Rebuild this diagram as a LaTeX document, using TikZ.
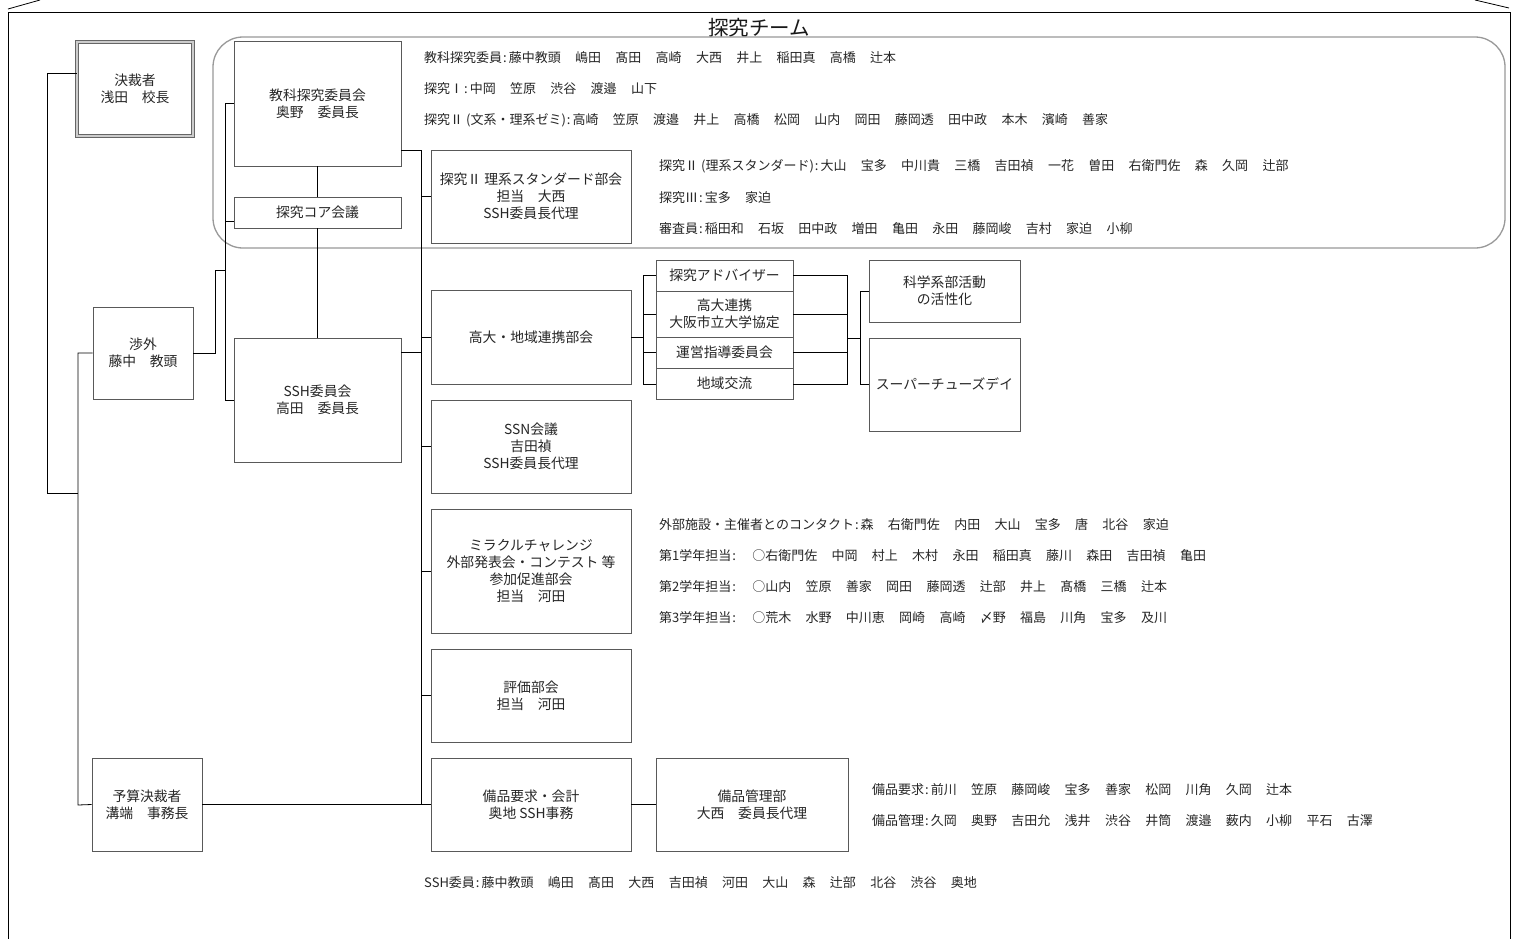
\documentclass[tikz,border=0pt]{standalone}
\usepackage{fontspec}
\setmainfont{Noto Sans CJK JP}
\usetikzlibrary{fit}
\newcommand\mkbox[5][]{\node[box,#1,fit={#3 #4}] (#2) {};\node[boxtext] (#2-t) at (#2.center) {#5};}
\newcommand\G{\hspace{1.1em}}
\newcommand\C{\kern1pt:\kern2pt}
\begin{document}
\begin{tikzpicture}[x=1pt,y=-1pt,
  box/.style={draw=black!65, line width=0.9pt, fill=white, inner sep=0pt},
  boxtext/.style={align=center, inner sep=0pt, font=\fontsize{13.8}{17}\selectfont, text=black!85},
  conn/.style={draw=black, line width=0.8pt},
  lst/.style={anchor=west, inner sep=0pt, font=\fontsize{13}{15}\selectfont, text=black!85},
  group/.style={draw=black!40, line width=1.3pt, rounded corners=30pt}]
\useasboundingbox (0,0) rectangle (1517,938);
\fill[white] (0,0) rectangle (1517,938);
% frame
\draw[line width=1pt] (8,945) -- (8,12) -- (1510,12) -- (1510,945);
\draw[line width=0.8pt] (8,9) -- (40,0);
\draw[line width=0.8pt] (1509,8) -- (1475,0);
\node[font=\fontsize{20.5}{23}\selectfont, text=black!90] (title) at (759,28) {探究チーム};
% group frame
\draw[group] (213,37) rectangle (1505,248);
% boxes
\mkbox[draw=black!60, double=black!20, double distance=1.2pt, line width=1pt]{kessai}{(77,42)}{(193,136)}{決裁者\\浅田　校長}
\mkbox{kyoka}{(234,41)}{(401,166)}{教科探究委員会\\奥野　委員長}
\mkbox{core}{(234,197)}{(401,228)}{探究コア会議}
\mkbox{tankyu2}{(431,150)}{(631,243)}{探究Ⅱ 理系スタンダード部会\\担当　大西\\SSH委員長代理}
\mkbox{shogai}{(93,307)}{(193,399)}{渉外\\藤中　教頭}
\mkbox{ssh}{(234,338)}{(401,462)}{SSH委員会\\高田　委員長}
\mkbox{kodai}{(431,290)}{(631,384)}{高大・地域連携部会}
\mkbox{ssn}{(431,400)}{(631,493)}{SSN会議\\吉田禎\\SSH委員長代理}
\mkbox{miracle}{(431,509)}{(631,633)}{ミラクルチャレンジ\\外部発表会・コンテスト 等\\参加促進部会\\担当　河田}
\mkbox{hyoka}{(431,649)}{(631,742)}{評価部会\\担当　河田}
\mkbox{bihin}{(431,758)}{(631,851)}{備品要求・会計\\奥地 SSH事務}
\mkbox{kanri}{(656,758)}{(848,851)}{備品管理部\\大西　委員長代理}
\mkbox{yosan}{(92,758)}{(202,851)}{予算決裁者\\溝端　事務長}
\mkbox{adv}{(656,260)}{(793,291)}{探究アドバイザー}
\mkbox{renkei}{(656,291)}{(793,337)}{高大連携\\大阪市立大学協定}
\mkbox{unei}{(656,337)}{(793,368)}{運営指導委員会}
\mkbox{chiiki}{(656,368)}{(793,399)}{地域交流}
\mkbox{kagaku}{(869,260)}{(1020,322)}{科学系部活動\\の活性化}
\mkbox{super}{(869,338)}{(1020,431)}{スーパーチューズデイ}
% connectors: left
\coordinate (L1) at (47,73); \coordinate (L2) at (47,493); \coordinate (L3) at (78,493);
\coordinate (V1) at (78,353); \coordinate (V2) at (78,805);
\draw[conn] ([yshift=16pt]kessai.west) -- (L1) -- (L2) -- (L3);
\draw[conn] (shogai.west) -- (V1) -- (V2) -- (yosan.west);
% shogai to left bus
\coordinate (S1) at (215,353); \coordinate (S2) at (215,270); \coordinate (S3) at (225,270);
\coordinate (B0) at (225,103); \coordinate (B1) at (225,400);
\draw[conn] (shogai.east) -- (S1) -- (S2) -- (S3);
\draw[conn] (B0) -- (B1);
\draw[conn] (B0) -- (B0 -| kyoka.west);
\draw[conn] ([yshift=-9pt]core.west -| B0) -- ([yshift=-9pt]core.west);
\draw[conn] (B1) -- (B1 -| ssh.west);
\draw[conn] (kyoka.south) -- (core.north);
\draw[conn] (core.south) -- (ssh.north);
% main bus
\coordinate (M0) at (421,150); \coordinate (M1) at (421,805);
\draw[conn] (M0 -| kyoka.east) -- (M0) -- (M1);
\foreach \n in {tankyu2,kodai,ssn,miracle,hyoka} \draw[conn] (M0 |- \n.west) -- (\n.west);
\draw[conn] ([yshift=48pt]ssh.east) -- ([yshift=48pt]ssh.east -| M0);
\draw[conn] (yosan.east) -- (bihin.west);
\draw[conn] (bihin.east) -- (kanri.west);
% kodai bracket
\coordinate (K0) at (643,275); \coordinate (K1) at (643,384);
\draw[conn] (kodai.east) -- (kodai.east -| K0);
\draw[conn] (K0 -| adv.west) -- (K0) -- (K1) -- (K1 -| chiiki.west);
\draw[conn] (K0 |- renkei.west) -- (renkei.west);
\draw[conn] (K0 |- unei.west) -- (unei.west);
\coordinate (R0) at (847,275); \coordinate (R1) at (847,384);
\coordinate (R2) at (847,338); \coordinate (R3) at (860,338);
\coordinate (T0) at (860,291); \coordinate (T1) at (860,384);
\draw[conn] (adv.east |- R0) -- (R0) -- (R1) -- (R1 -| chiiki.east);
\draw[conn] (renkei.east) -- (renkei.east -| R0);
\draw[conn] (unei.east) -- (unei.east -| R0);
\draw[conn] (R2) -- (R3);
\draw[conn] (kagaku.west -| T0) -- (kagaku.west);
\draw[conn] (kagaku.west -| T0) -- (super.west -| T0) -- (super.west);
% lists
\node[lst] (g1a) at (424,58) {教科探究委員\C 藤中教頭\G 嶋田\G 髙田\G 高崎\G 大西\G 井上\G 稲田真\G 高橋\G 辻本};
\node[lst] (g1b) at (424,89) {探究Ⅰ\C 中岡\G 笠原\G 渋谷\G 渡邉\G 山下};
\node[lst] (g1c) at (424,120) {探究Ⅱ (文系・理系ゼミ)\C 高崎\G 笠原\G 渡邉\G 井上\G 高橋\G 松岡\G 山内\G 岡田\G 藤岡透\G 田中政\G 本木\G 濱崎\G 善家};
\node[lst] (g2a) at (659,166) {探究Ⅱ (理系スタンダード)\C 大山\G 宝多\G 中川貴\G 三橋\G 吉田禎\G 一花\G 曽田\G 右衛門佐\G 森\G 久岡\G 辻部};
\node[lst] (g2b) at (659,198) {探究Ⅲ\C 宝多\G 家迫};
\node[lst] (g2c) at (659,229) {審査員\C 稲田和\G 石坂\G 田中政\G 増田\G 亀田\G 永田\G 藤岡峻\G 吉村\G 家迫\G 小柳};
\node[lst] (g3a) at (659,525) {外部施設・主催者とのコンタクト\C 森\G 右衛門佐\G 内田\G 大山\G 宝多\G 唐\G 北谷\G 家迫};
\node[lst] (g3b) at (659,556) {第1学年担当\C\G ○右衛門佐\G 中岡\G 村上\G 木村\G 永田\G 稲田真\G 藤川\G 森田\G 吉田禎\G 亀田};
\node[lst] (g3c) at (659,587) {第2学年担当\C\G ○山内\G 笠原\G 善家\G 岡田\G 藤岡透\G 辻部\G 井上\G 髙橋\G 三橋\G 辻本};
\node[lst] (g3d) at (659,618) {第3学年担当\C\G ○荒木\G 水野\G 中川恵\G 岡崎\G 高崎\G 〆野\G 福島\G 川角\G 宝多\G 及川};
\node[lst] (g4a) at (872,790) {備品要求\C 前川\G 笠原\G 藤岡峻\G 宝多\G 善家\G 松岡\G 川角\G 久岡\G 辻本};
\node[lst] (g4b) at (872,821) {備品管理\C 久岡\G 奥野\G 吉田允\G 浅井\G 渋谷\G 井筒\G 渡邉\G 薮内\G 小柳\G 平石\G 古澤};
\node[lst] (g5) at (424,883) {SSH委員\C 藤中教頭\G 嶋田\G 髙田\G 大西\G 吉田禎\G 河田\G 大山\G 森\G 辻部\G 北谷\G 渋谷\G 奥地};
\end{tikzpicture}
\end{document}
